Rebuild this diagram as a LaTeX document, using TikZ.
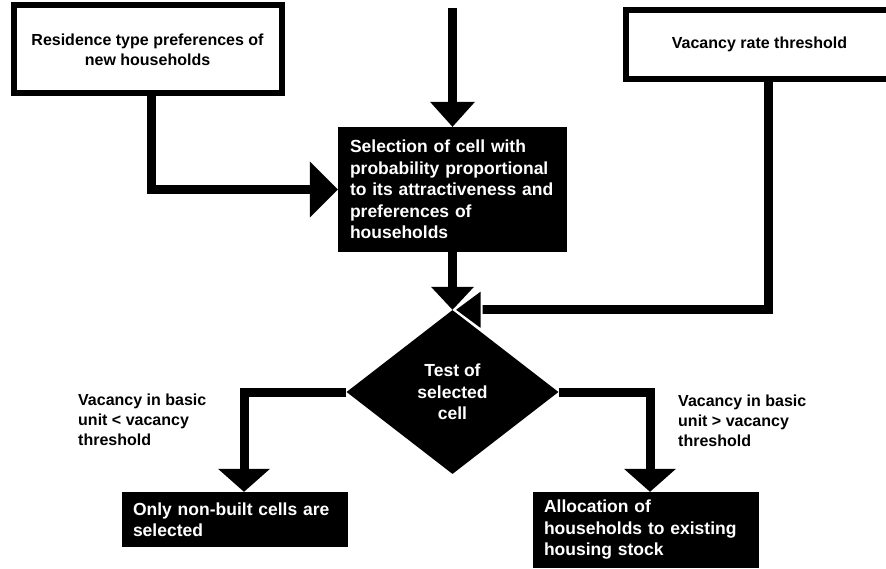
\documentclass[tikz,border=0pt]{standalone}
\usepackage{fontspec}
\setmainfont{Liberation Sans}
\usetikzlibrary{arrows.meta,shapes.geometric}
\newcommand{\wfont}{\fontsize{16}{20}\selectfont\bfseries}
\newcommand{\bfont}{\fontsize{17.5}{21.5}\selectfont\bfseries}

\begin{document}
\begin{tikzpicture}[x=1pt,y=-1pt,
        whitebox/.style={draw=black, line width=6pt, fill=white, inner sep=0pt, align=center, font=\wfont},
        blackbox/.style={fill=black, text=white, inner ysep=0pt, align=left, font=\bfont},
        decision/.style={diamond, fill=black, text=white, inner sep=0pt, align=center, font=\bfont, minimum width=212pt, minimum height=164pt},
        note/.style={inner sep=0pt, align=left, font=\wfont, anchor=north west},
        flow/.style={line width=9pt}]
        \useasboundingbox (0,0) rectangle (886,569);
        % inputs
        \node[whitebox, minimum width=268pt, minimum height=88pt] (pref) at (147.5,49.5) {Residence type preferences of\\new households};
        \node[whitebox, minimum width=267pt, minimum height=69pt] (thresh) at (759.5,44.5) {Vacancy rate threshold};
        % selection and test
        \node[blackbox, text width=205pt, inner xsep=12pt, minimum height=125pt] (sel) at (452.5,189.5) {Selection of cell with\\probability proportional\\to its attractiveness and\\preferences of\\households};
        \node[decision] (cell) at (452.5,392) {Test of\\selected\\cell};
        % outcomes
        \node[blackbox, text width=204pt, inner xsep=11pt, minimum height=55pt] (nonbuilt) at (235,519.5) {Only non-built cells are\\selected};
        \node[blackbox, text width=204pt, inner xsep=11pt, minimum height=76pt] (alloc) at (646,530) {Allocation of\\households to existing\\housing stock};
        \node[note] (lower) at (78,394) {Vacancy in basic\\unit < vacancy\\threshold};
        \node[note] (upper) at (678,395) {Vacancy in basic\\unit > vacancy\\threshold};
        % connectors
        \coordinate (entry) at (452.5,8);
        \draw[flow, -{Triangle[length=25pt,width=45pt,line width=0pt]}] (entry) -- (sel.north);
        \draw[flow, -{Triangle[length=28pt,width=56pt,line width=0pt]}] ([xshift=3.5pt]pref.south) |- (sel.west);
        \draw[flow, -{Triangle[length=23pt,width=43pt,line width=0pt]}] (sel.south) -- (cell.north);
        \draw[flow, -{Triangle[length=30pt,width=44pt,line width=2pt,color=white,fill=black]}] ([xshift=8.5pt]thresh.south) |- (cell.north);
        \draw[flow, -{Triangle[length=23pt,width=52pt,line width=0pt]}] (cell.west) -| ([xshift=9pt]nonbuilt.north);
        \draw[flow, -{Triangle[length=23pt,width=52pt,line width=0pt]}] (cell.east) -| ([xshift=4pt]alloc.north);
\end{tikzpicture}
\end{document}
